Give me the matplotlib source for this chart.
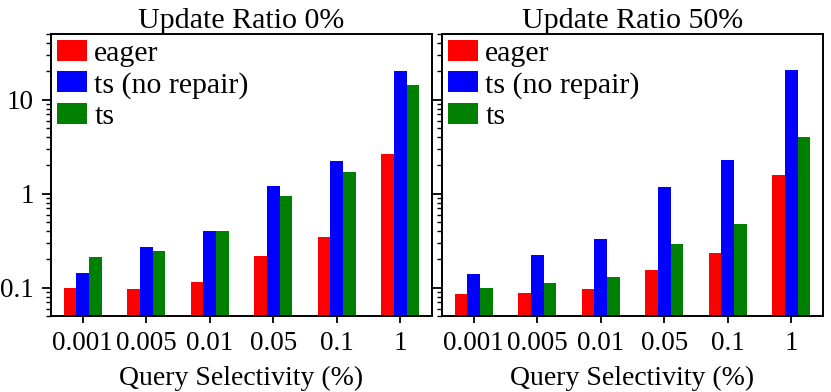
import numpy as np
import matplotlib
matplotlib.use("Agg")
import matplotlib.pyplot as plt

plt.rcParams['font.family'] = ['Liberation Serif', 'DejaVu Serif']
plt.rcParams['font.size'] = 19.5
plt.rcParams['axes.linewidth'] = 1.4

# x axis categories
selectivity = ["0.001", "0.005", "0.01", "0.05", "0.1", "1"]
series_names = ["eager", "ts (no repair)", "ts"]
colors = ["red", "blue", "green"]

# update ratio 0%
eager_0 = [0.100, 0.0975, 0.114, 0.219, 0.35, 2.66]
ts_norepair_0 = [0.143, 0.273, 0.40, 1.20, 2.23, 20.2]
ts_0 = [0.21, 0.248, 0.404, 0.95, 1.69, 14.5]

# update ratio 50%
eager_50 = [0.0857, 0.0885, 0.0975, 0.154, 0.234, 1.60]
ts_norepair_50 = [0.141, 0.221, 0.33, 1.18, 2.26, 20.7]
ts_50 = [0.099, 0.112, 0.131, 0.29, 0.48, 4.0]

panels = [
    ("Update Ratio 0%", [eager_0, ts_norepair_0, ts_0]),
    ("Update Ratio 50%", [eager_50, ts_norepair_50, ts_50]),
]

fig, axes = plt.subplots(1, 2, figsize=(8.31, 3.92), dpi=100, sharey=True)
fig.subplots_adjust(left=0.0614, right=0.9904, top=0.9133, bottom=0.1939, wspace=0.026)

x = np.arange(len(selectivity))
width = 0.2

for ax, (title, data) in zip(axes, panels):
    for i, (vals, name, c) in enumerate(zip(data, series_names, colors)):
        ax.bar(x + (i - 1) * width, vals, width, color=c, label=name)
    ax.set_yscale('log')
    ax.set_ylim(0.05, 50)
    ax.set_xlim(-0.5, 5.5)
    ax.set_xticks(x)
    ax.set_xticklabels(selectivity)
    ax.set_yticks([0.1, 1, 10])
    ax.set_yticklabels(["0.1", "1", "10"])
    ax.yaxis.set_minor_formatter(matplotlib.ticker.NullFormatter())
    ax.tick_params(axis='y', which='major', length=6.5, width=1.3, pad=6)
    ax.tick_params(axis='y', which='minor', length=3.5, width=1.0)
    ax.tick_params(axis='x', length=5, width=1.3, pad=6)
    ax.set_title(title, fontsize=21.6, pad=4)
    ax.set_xlabel("Query Selectivity (%)", fontsize=20, labelpad=7)
    ax.legend(loc='upper left', frameon=False, fontsize=21.5, handlelength=1.0,
              handleheight=0.7, handletextpad=0.25, borderaxespad=0.1,
              borderpad=0.1, labelspacing=0.15)

plt.savefig("out.png")
